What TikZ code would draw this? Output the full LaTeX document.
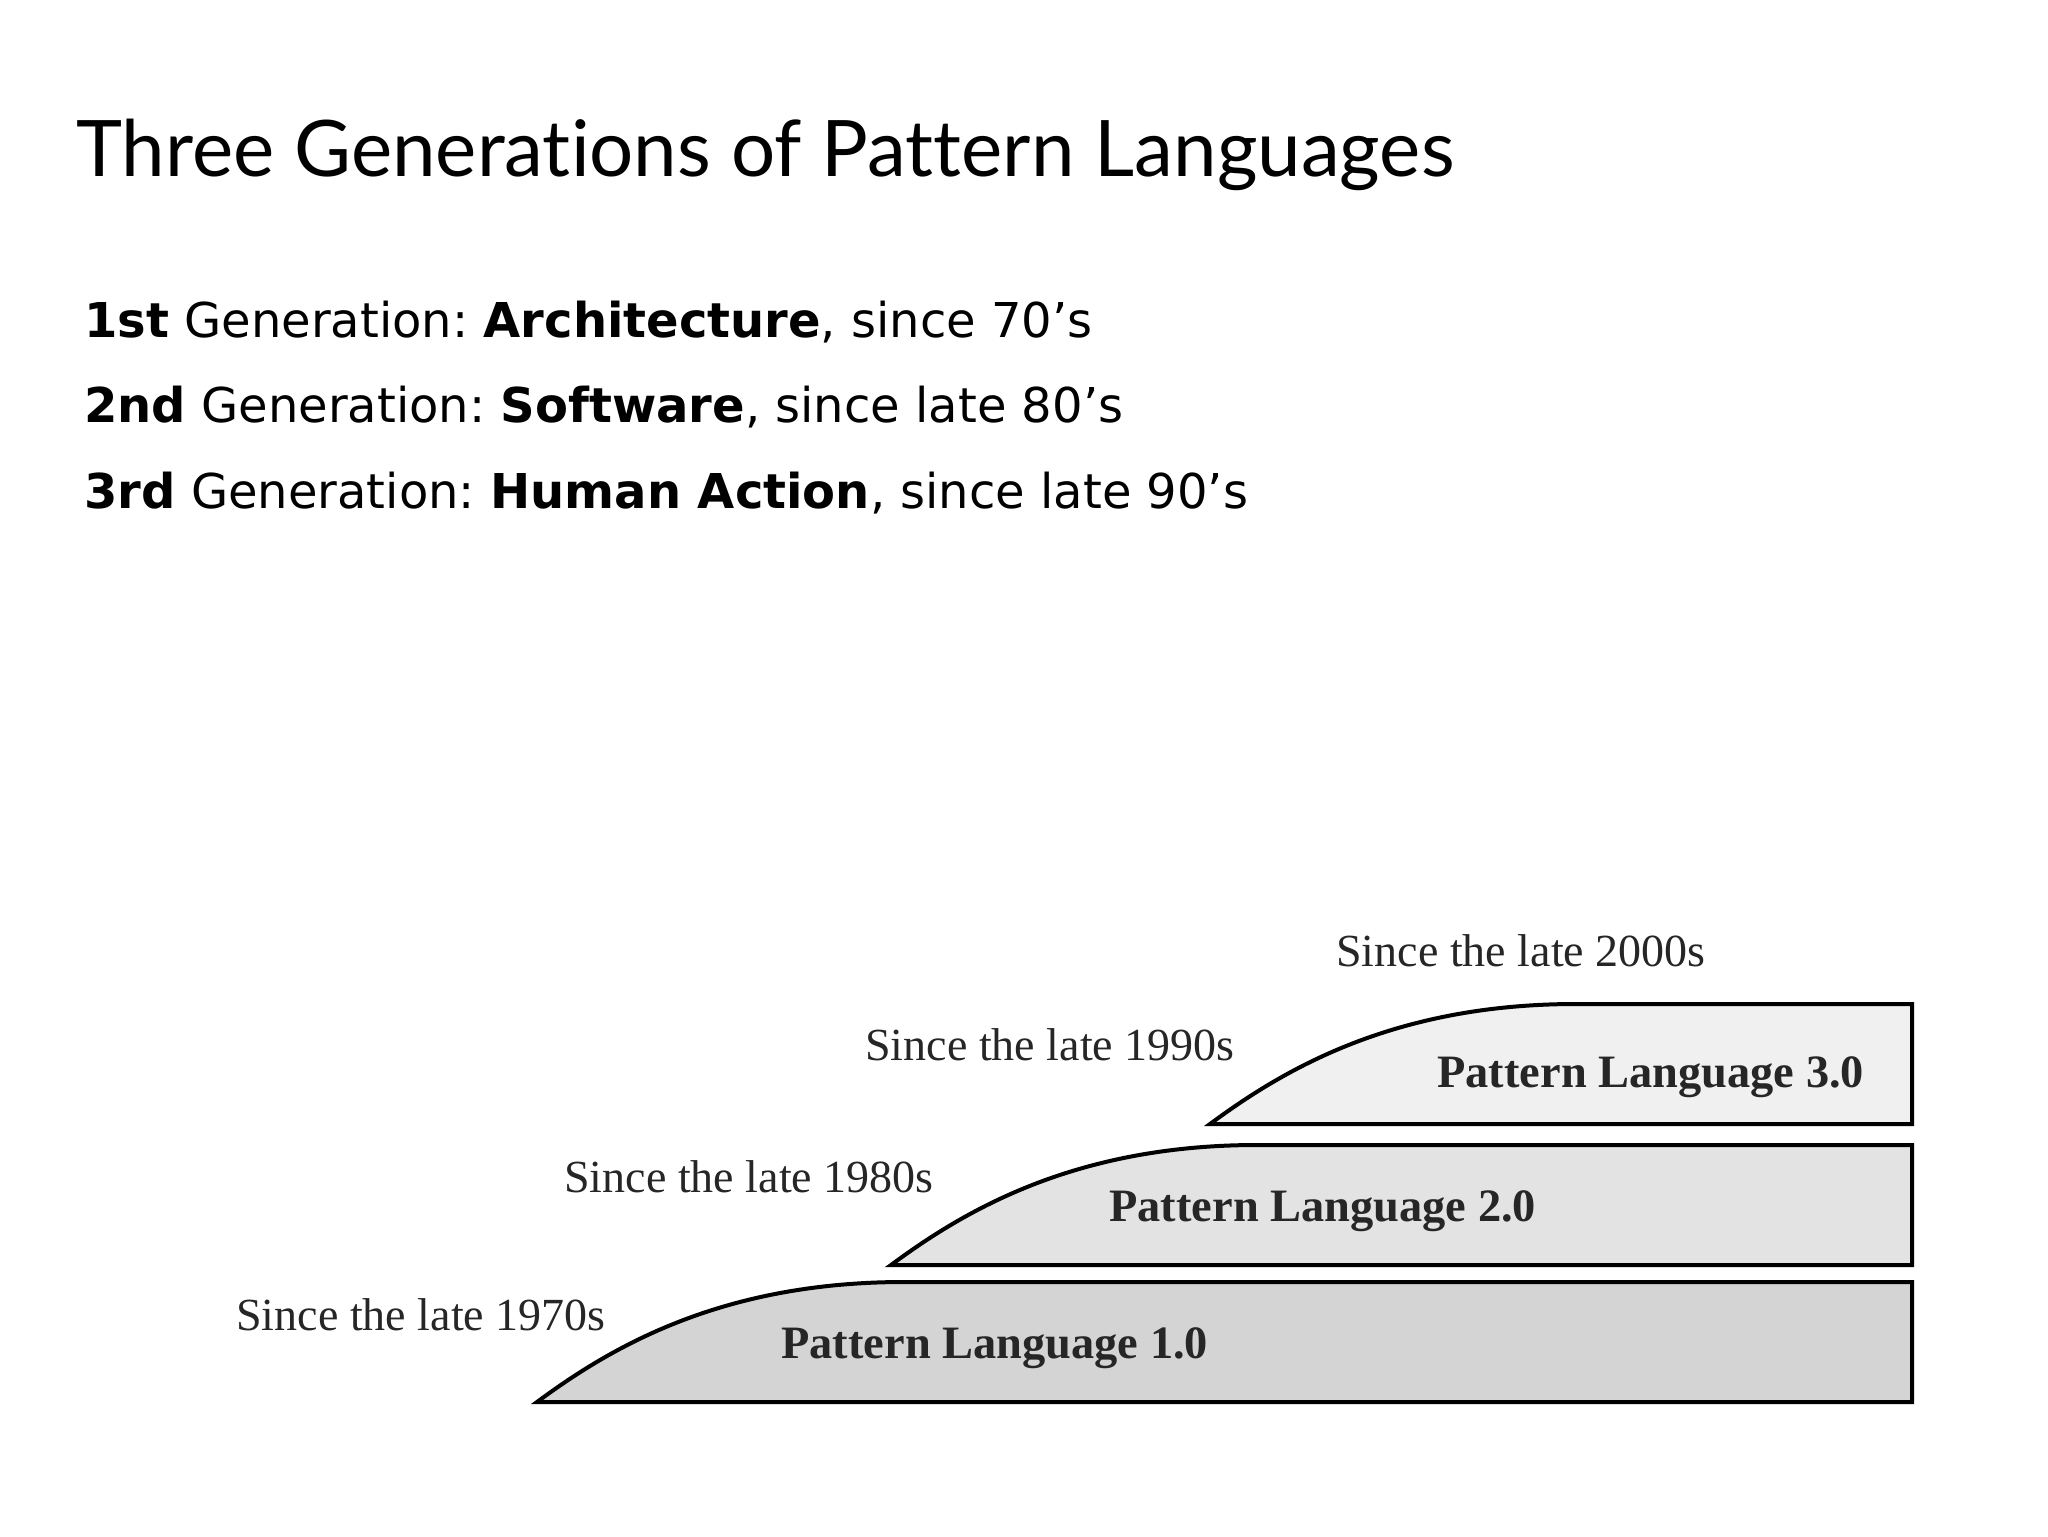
\documentclass[tikz,border=0pt]{standalone}
\usepackage{fontspec}
\setmainfont{Liberation Serif}
\newfontfamily\titlefont[Ligatures={NoCommon,NoDiscretionary}]{Lato}
\newfontfamily\bodyfont{DejaVu Sans}
\frenchspacing
\begin{document}
\begin{tikzpicture}[x=0.5pt,y=-0.5pt,
  tier/.style={draw=black, line width=2pt, line join=miter},
  since/.style={anchor=base west, inner sep=0pt, font=\fontsize{23}{28}\selectfont, text=black!85},
  plabel/.style={anchor=base west, inner sep=0pt, font=\fontsize{23.2}{28}\selectfont\bfseries, text=black!85},
  gen/.style={anchor=base west, inner sep=0pt, font=\bodyfont\frenchspacing\fontsize{24}{30}\selectfont},
  ttl/.style={anchor=base west, inner sep=0pt, font=\titlefont\fontsize{39}{46}\selectfont},
]
\useasboundingbox[fill=white] (0,0) rectangle (2048,1536);
\definecolor{fillA}{gray}{0.83}
\definecolor{fillB}{gray}{0.89}
\definecolor{fillC}{gray}{0.94}

\node[ttl] (title) at (76,176) {Three Generations of Pattern Languages};
\node[gen] (g1) at (84,337) {\textbf{1st} Generation: \textbf{Architecture}, since 70’s};
\node[gen] (g2) at (84,422) {\textbf{2nd} Generation: \textbf{Software}, since late 80’s};
\node[gen] (g3) at (84,508) {\textbf{3rd} Generation: \textbf{Human Action}, since late 90’s};

\draw[tier, fill=fillA] (537,1402) .. controls (610,1348) and (720,1282) .. (904,1282) -- (1912,1282) -- (1912,1402) -- cycle;
\draw[tier, fill=fillB] (891,1265) .. controls (964,1211) and (1074,1145) .. (1257,1145) -- (1912,1145) -- (1912,1265) -- cycle;
\draw[tier, fill=fillC] (1210,1124) .. controls (1283,1070) and (1393,1004) .. (1576,1004) -- (1912,1004) -- (1912,1124) -- cycle;

\node[since] (s4) at (1336,966) {Since the late 2000s};
\node[since] (s3) at (865,1060) {Since the late 1990s};
\node[since] (s2) at (564,1192) {Since the late 1980s};
\node[since] (s1) at (236,1330) {Since the late 1970s};

\node[plabel] (p3) at (1437,1087) {Pattern Language 3.0};
\node[plabel] (p2) at (1109,1221) {Pattern Language 2.0};
\node[plabel] (p1) at (781,1358) {Pattern Language 1.0};
\end{tikzpicture}
\end{document}
